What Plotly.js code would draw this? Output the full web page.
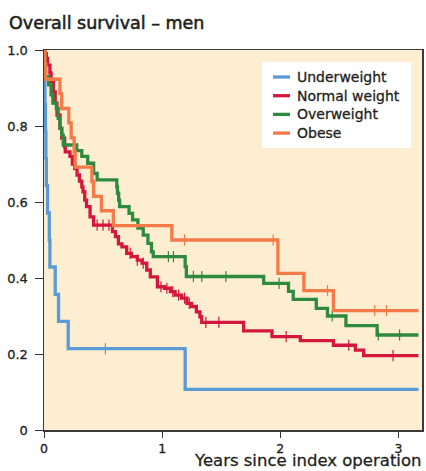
<!DOCTYPE html>
<html>
<head>
<meta charset="utf-8">
<script src="https://cdn.plot.ly/plotly-3.0.1.min.js"></script>
<style>
html,body{margin:0;padding:0;background:#fff;}
#chart{width:426px;height:471px;}
#chart svg text{stroke:#231f20;stroke-width:0.3px;}
#chart svg .gtitle{stroke-width:0.55px;}
</style>
</head>
<body>
<div id="chart"></div>
<script>
// ---- Data ----
const seriesNames = ["Underweight", "Normal weight", "Overweight", "Obese"];
const seriesColors = ["#5b9bd5", "#d4173d", "#2e8a3f", "#f47a48"];
const endTime = 3.17;

const underTimes = [0, 0.004, 0.008, 0.012, 0.016, 0.02, 0.03, 0.045, 0.05, 0.095, 0.123, 0.205, 1.195];
const underSurv  = [1, 0.929, 0.857, 0.786, 0.714, 0.643, 0.571, 0.5, 0.429, 0.357, 0.286, 0.214, 0.107];
const underCens  = [0.52];

const normalTimes = [0, 0.01, 0.02, 0.03, 0.05, 0.06, 0.08, 0.095, 0.11, 0.135, 0.15, 0.175, 0.18, 0.22, 0.24, 0.26, 0.28, 0.30, 0.32, 0.33, 0.345, 0.36, 0.39, 0.42, 0.58, 0.605, 0.63, 0.66, 0.70, 0.74, 0.79, 0.83, 0.87, 0.90, 0.96, 1.02, 1.07, 1.11, 1.165, 1.21, 1.25, 1.29, 1.32, 1.335, 1.69, 1.93, 2.17, 2.45, 2.636, 2.706];
const normalSurv  = [1, 0.99, 0.978, 0.96, 0.94, 0.917, 0.89, 0.86, 0.829, 0.794, 0.768, 0.745, 0.732, 0.72, 0.70, 0.688, 0.671, 0.655, 0.64, 0.627, 0.605, 0.588, 0.561, 0.539, 0.522, 0.509, 0.49, 0.482, 0.465, 0.456, 0.447, 0.439, 0.421, 0.403, 0.377, 0.373, 0.364, 0.355, 0.347, 0.333, 0.325, 0.311, 0.298, 0.283, 0.261, 0.2455, 0.235, 0.223, 0.21, 0.1955];
const normalCens  = [0.45, 0.50, 0.55, 0.73, 0.79, 0.84, 0.99, 1.04, 1.09, 1.14, 1.19, 1.23, 1.37, 1.48, 2.05, 2.58, 2.955];

const overTimes = [0, 0.005, 0.01, 0.04, 0.06, 0.075, 0.105, 0.12, 0.135, 0.15, 0.163, 0.277, 0.32, 0.37, 0.42, 0.45, 0.616, 0.622, 0.632, 0.64, 0.72, 0.75, 0.795, 0.84, 0.88, 0.91, 0.925, 1.195, 1.205, 1.86, 2.07, 2.11, 2.305, 2.40, 2.556, 2.82];
const overSurv  = [1, 0.962, 0.93, 0.908, 0.882, 0.86, 0.846, 0.82, 0.794, 0.776, 0.75, 0.735, 0.72, 0.702, 0.675, 0.658, 0.64, 0.623, 0.605, 0.588, 0.57, 0.553, 0.531, 0.513, 0.491, 0.469, 0.456, 0.43, 0.404, 0.386, 0.365, 0.344, 0.32, 0.30, 0.2745, 0.25];
const overCens  = [1.053, 1.096, 1.265, 1.336, 1.54, 1.99, 2.44, 2.83, 3.01];

const obeseTimes = [0, 0.008, 0.015, 0.135, 0.15, 0.21, 0.23, 0.255, 0.264, 0.405, 0.42, 0.486, 0.587, 1.082, 1.98, 2.2, 2.45];
const obeseSurv  = [1, 0.962, 0.923, 0.885, 0.846, 0.808, 0.769, 0.731, 0.692, 0.654, 0.615, 0.577, 0.538, 0.5, 0.412, 0.367, 0.314];
const obeseCens  = [1.19, 1.94, 2.40, 2.80, 2.90];

const yTickVals = [0, 0.2, 0.4, 0.6, 0.8, 1.0];
const yTickText = ["0", "0.2", "0.4", "0.6", "0.8", "1.0"];
const xTickVals = [0, 1, 2, 3];
const xTickText = ["0", "1", "2", "3"];
const chartTitle = "Overall survival – men";
const xTitle = "Years since index operation";

// ---- Build traces ----
function stepAt(times, surv, t) {
  let s = surv[0];
  for (let i = 0; i < times.length; i++) { if (times[i] <= t) s = surv[i]; }
  return s;
}
const groups = [
  [underTimes, underSurv, underCens],
  [normalTimes, normalSurv, normalCens],
  [overTimes, overSurv, overCens],
  [obeseTimes, obeseSurv, obeseCens]
];
const traces = [];
const censTraces = [];
groups.forEach((g, i) => {
  const [T, S, C] = g;
  traces.push({
    x: T.concat([endTime]), y: S.concat([S[S.length - 1]]),
    type: "scatter", mode: "lines", name: seriesNames[i], showlegend: false,
    line: {shape: "hv", color: seriesColors[i], width: 3.3},
    hoverinfo: "skip"
  });
  censTraces.push({
    x: C, y: C.map(t => stepAt(T, S, t)), type: "scatter", mode: "markers",
    showlegend: false, hoverinfo: "skip",
    marker: {symbol: "line-ns", size: 8, line: {color: seriesColors[i], width: 1.2}}
  });
});
const data = [traces[0], censTraces[0], traces[1], censTraces[1], traces[2], censTraces[2], traces[3], censTraces[3]];

const font = "'DejaVu Sans', Verdana, sans-serif";
const textColor = "#231f20";

// ---- Manual legend (box, line samples, labels) in paper coordinates ----
const plotL = 44, plotT = 50, plotW = 378, plotH = 380;
const px2x = p => (p - plotL) / plotW;
const py2y = p => (plotT + plotH - p) / plotH;
const shapes = [{
  type: "rect", xref: "paper", yref: "paper",
  x0: px2x(262), x1: px2x(411), y0: py2y(148), y1: py2y(62),
  fillcolor: "#ffffff", line: {width: 0}, layer: "above"
}];
const annotations = [];
seriesNames.forEach((name, i) => {
  const yc = py2y(77 + i * 18.7);
  shapes.push({
    type: "line", xref: "paper", yref: "paper",
    x0: px2x(273), x1: px2x(290), y0: yc, y1: yc,
    line: {color: seriesColors[i], width: 3.3}, layer: "above"
  });
  annotations.push({
    xref: "paper", yref: "paper", x: px2x(295), y: yc,
    xanchor: "left", yanchor: "middle", showarrow: false,
    text: name, font: {family: font, size: 14, color: textColor}
  });
});
annotations.push({
  xref: "paper", yref: "paper", x: px2x(424), y: py2y(472),
  xanchor: "right", yanchor: "bottom", showarrow: false,
  text: xTitle, font: {family: font, size: 16.5, color: textColor}
});

const layout = {
  width: 426, height: 471,
  margin: {l: plotL, r: 426 - plotL - plotW, t: plotT, b: 471 - plotT - plotH, pad: 0},
  paper_bgcolor: "#ffffff",
  plot_bgcolor: "#fdedd1",
  font: {family: font, color: textColor, size: 13},
  showlegend: false,
  title: {
    text: chartTitle,
    x: 9 / 426, xanchor: "left", xref: "container",
    y: 1 - 23 / 471, yanchor: "middle", yref: "container",
    font: {family: font, size: 17.5, color: textColor}
  },
  xaxis: {
    range: [0, 3.2], tickvals: xTickVals, ticktext: xTickText,
    ticks: "outside", ticklen: 6, tickwidth: 1, tickcolor: "#333",
    ticklabelstandoff: 0,
    showline: true, linecolor: "#3a3a3a", linewidth: 1.5, mirror: true,
    showgrid: false, zeroline: false, fixedrange: true,
    tickfont: {family: font, size: 12.5, color: textColor}
  },
  yaxis: {
    range: [0, 1.0], tickvals: yTickVals, ticktext: yTickText,
    ticks: "outside", ticklen: 8, tickwidth: 1, tickcolor: "#333",
    ticklabelstandoff: 4,
    showline: true, linecolor: "#3a3a3a", linewidth: 1.5, mirror: true,
    showgrid: false, zeroline: false, fixedrange: true,
    tickfont: {family: font, size: 13, color: textColor}
  },
  shapes: shapes,
  annotations: annotations
};

Plotly.newPlot("chart", data, layout, {staticPlot: true, displayModeBar: false});
</script>
</body>
</html>
